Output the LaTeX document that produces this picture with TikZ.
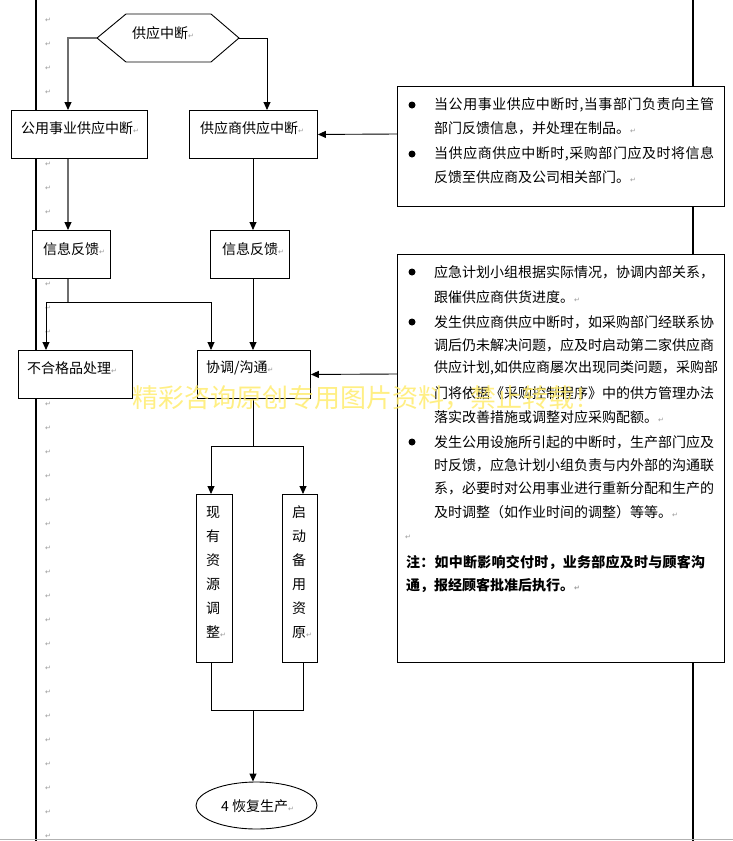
\documentclass[tikz,border=0pt]{standalone}
\usepackage{fontspec}
\setmainfont{Noto Sans CJK SC}
\newfontfamily\djv{DejaVu Sans}
\usetikzlibrary{arrows.meta,shapes.geometric}
\definecolor{wmc}{RGB}{255,236,110}
\definecolor{lgray}{RGB}{110,110,110}
\newcommand\parmark{{\djv\color{gray!80}\fontsize{7}{7}\selectfont ↵}}
\newcommand\fstrut{\rule{0pt}{13pt}}
\ExplSyntaxOn
\NewDocumentCommand\sline{O{280pt}m}{\hbox~to~#1{\tl_map_inline:nn{#2}{##1\hfil}\unskip}}
\ExplSyntaxOff
\tikzset{
  box/.style={draw, line width=0.9pt, fill=white, inner sep=0, anchor=north west},
  txt/.style={anchor=west, inner sep=0, font=\fontsize{14}{16}\selectfont},
  arr/.style={line width=0.9pt, -{Triangle[length=8pt,width=7pt,color=black]}},
  garr/.style={arr, draw=lgray, line width=1.2pt},
  ln/.style={line width=0.9pt},
  gln/.style={draw=lgray, line width=1.2pt},
  bul/.style={circle, fill=black, inner sep=0, minimum size=7pt},
  mk/.style={inner sep=0},
  vtxt/.style={anchor=north, inner sep=0, align=center, font=\fontsize{14}{24}\selectfont},
}
\begin{document}
\begin{tikzpicture}[x=1pt,y=-1pt]
\useasboundingbox (0,0) rectangle (733,841);
% page margin lines
\draw[line width=1.2pt] (36,0) -- (36,841);
\draw[line width=1.2pt] (693,0) -- (693,841);
\draw[gray!60, line width=1pt] (0,839.5) -- (733,839.5);
% paragraph marks
\foreach \k in {0,...,34} { \node[mk] (pm\k) at (48, 20+24*\k) {\parmark}; }

% hexagon
\draw[ln, fill=white] (97,38) -- (126,14) -- (211,14) -- (239,38) -- (211,62) -- (126,62) -- cycle;
\coordinate (hexL) at (97,38);
\coordinate (hexR) at (239,38);
\node[txt] (hex) at (132,33) {供应中断\parmark};

% boxes
\node[box, minimum width=136pt, minimum height=48pt] (gy) at (11,110) {};
\node[box, minimum width=128pt, minimum height=48pt] (gs) at (189,110) {};
\node[box, minimum width=327pt, minimum height=120pt] (n1) at (397,86) {};
\node[box, minimum width=78pt, minimum height=48pt] (xl) at (32,230) {};
\node[box, minimum width=79pt, minimum height=48pt] (xr) at (210,230) {};
\node[box, minimum width=114pt, minimum height=48pt] (bh) at (18,350) {};
\node[box, minimum width=113pt, minimum height=48pt] (xt) at (197,350) {};
\node[box, minimum width=327pt, minimum height=408pt] (n2) at (397,254) {};
\node[box, minimum width=36pt, minimum height=168pt] (zy) at (196,494) {};
\node[box, minimum width=35pt, minimum height=168pt] (qd) at (282,494) {};
\node[draw, ellipse, line width=0.9pt, fill=white, minimum width=121pt, minimum height=47pt, inner sep=0] (el) at (256.5,805.5) {};

% box texts
\node[txt] (tgy) at (21,128) {公用事业供应中断\parmark};
\node[txt] (tgs) at (200,128) {供应商供应中断\parmark};
\node[txt] (txl) at (43,249) {信息反馈\parmark};
\node[txt] (txr) at (222,249) {信息反馈\parmark};
\node[txt] (tbh) at (27,368) {不合格品处理\parmark};
\node[txt] (txt) at (206,368) {协调/沟通\parmark};
\node[vtxt] (tzy) at (213,504.3) {\fstrut 现\\有\\资\\源\\调\\整\rlap{\parmark}};
\node[vtxt] (tqd) at (299,504.3) {\fstrut 启\\动\\备\\用\\资\\原\rlap{\parmark}};
\node[txt] (tel) at (221,806) {4 恢复生产\parmark};

% note box 1
\node[bul] (b1) at (412,105) {};
\node[txt] (l1) at (434,105) {\sline{当公用事业供应中断时,当事部门负责向主管}};
\node[txt] (l2) at (434,128) {部门反馈信息，并处理在制品。\parmark};
\node[bul] (b2) at (412,154) {};
\node[txt] (l3) at (434,154) {\sline{当供应商供应中断时,采购部门应及时将信息}};
\node[txt] (l4) at (434,177) {反馈至供应商及公司相关部门。\parmark};

% note box 2
\node[bul] (b3) at (412,272) {};
\node[txt] (k1) at (434,272) {\sline{应急计划小组根据实际情况，协调内部关系，}};
\node[txt] (k2) at (434,297) {跟催供应商供货进度。\parmark};
\node[bul] (b4) at (412,322) {};
\node[txt] (k3) at (434,322) {\sline{发生供应商供应中断时，如采购部门经联系协}};
\node[txt] (k4) at (434,345) {\sline{调后仍未解决问题，应及时启动第二家供应商}};
\node[txt] (k5) at (434,368) {\sline{供应计划,如供应商屡次出现同类问题，采购部}};
\node[txt] (k6) at (434,393) {\sline{门将依据《采购控制程序》中的供方管理办法}};
\node[txt] (k7) at (434,417) {落实改善措施或调整对应采购配额。\parmark};
\node[bul] (b5) at (412,442) {};
\node[txt] (k8) at (434,442) {\sline{发生公用设施所引起的中断时，生产部门应及}};
\node[txt] (k9) at (434,465) {\sline{时反馈，应急计划小组负责与内外部的沟通联}};
\node[txt] (k10) at (434,488) {\sline{系，必要时对公用事业进行重新分配和生产的}};
\node[txt] (k11) at (434,512) {及时调整（如作业时间的调整）等等。\parmark};
\node[mk] (m1) at (408,537) {\parmark};
\node[txt, font=\fontsize{14}{16}\selectfont\bfseries] (k12) at (406,562) {\sline[299pt]{注：如中断影响交付时，业务部应及时与顾客沟}};
\node[txt, font=\fontsize{14}{16}\selectfont\bfseries] (k13) at (406,585) {通，报经顾客批准后执行。\parmark};

% connectors
\draw[garr] (hexL) -| ([xshift=57pt]gy.north west);
\draw[arr] (hexR) -| ([xshift=78pt]gs.north west);
\draw[garr] ([xshift=57pt]gy.south west) -- ([xshift=36pt]xl.north west);
\draw[arr] ([xshift=64pt]gs.south west) -- ([xshift=43pt]xr.north west);
\draw[arr] ([yshift=-48pt]n1.north west) -- (gs.east);
\coordinate (fk) at (68,302);
\draw[gln] ([xshift=36pt]xl.south west) -- (fk);
\draw[arr] (fk) -| ([xshift=28pt]bh.north west);
\draw[arr] (fk) -| ([xshift=14pt]xt.north west);
\draw[arr] ([xshift=43pt]xr.south west) -- ([xshift=56pt]xt.north west);
\draw[arr] ([yshift=-120pt]n2.north west) -- (xt.east);
\coordinate (f2) at (253,446);
\draw[ln] ([xshift=56pt]xt.south west) -- (f2);
\draw[arr] (f2) -| ([xshift=15pt]zy.north west);
\draw[arr] (f2) -| ([xshift=21pt]qd.north west);
\coordinate (m2) at (253,710);
\draw[ln] ([xshift=15pt]zy.south west) |- (m2);
\draw[ln] ([xshift=21pt]qd.south west) |- (m2);
\draw[arr] (m2) -- (m2 |- el.north);

% watermark
\node[anchor=west, inner sep=0, text=wmc, text opacity=0.85, font=\fontsize{26}{26}\selectfont] (wm) at (132,398) {精彩咨询原创专用图片资料，禁止转载！};
\end{tikzpicture}
\end{document}
